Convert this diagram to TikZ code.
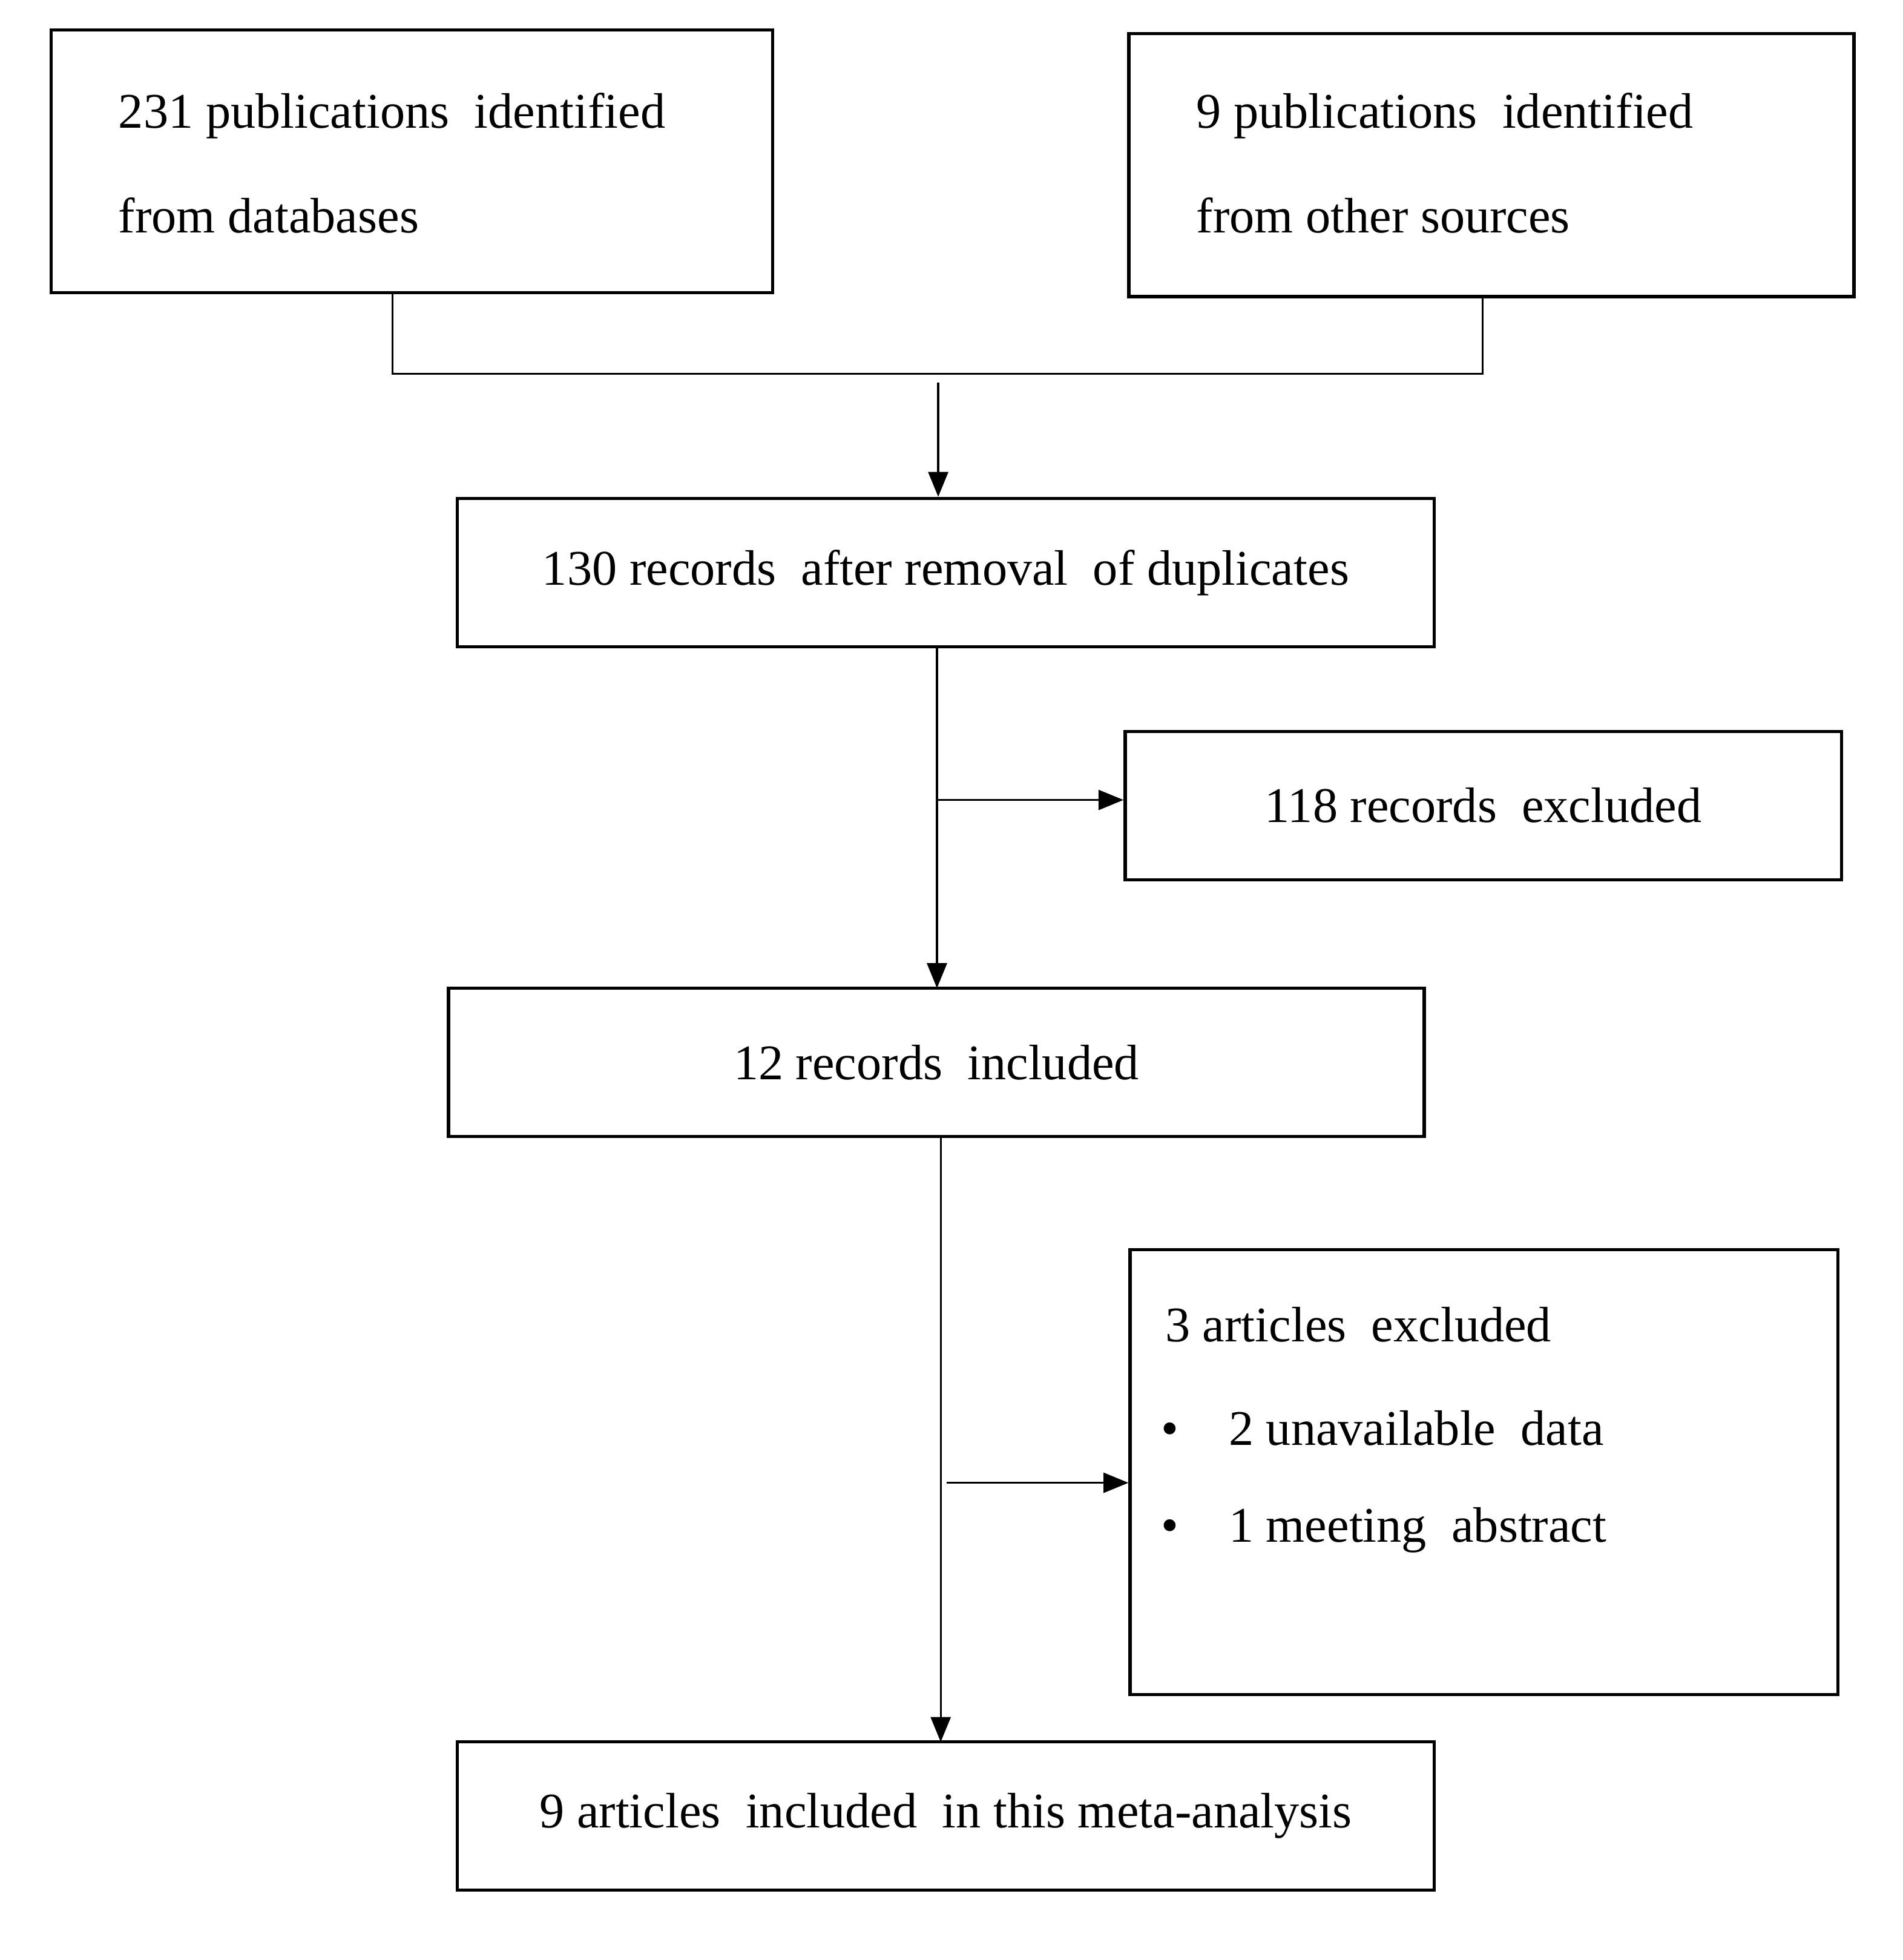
\documentclass[tikz,border=0pt]{standalone}
\usepackage{fontspec}
\setmainfont{Liberation Serif}
\usetikzlibrary{arrows.meta}
\begin{document}
\begin{tikzpicture}[x=1pt,y=-1pt,
  box/.style={draw,line width=2.6pt},
  ln/.style={line width=1.6pt},
  arr/.style={ln,-{Triangle[length=20pt,width=16pt]}},
  txt/.style={font=\fontsize{40}{48}\selectfont,inner sep=0pt}]
\useasboundingbox (0,0) rectangle (1527,1573);
\fill[white] (0,0) rectangle (1527,1573);
\draw[box] (41,24) rectangle (620,235);
\node[txt,anchor=west] (a1) at (95,93) {231 publications\enspace identified};
\node[txt,anchor=west] (a2) at (95,173) {from databases};
\draw[box] (906,27) rectangle (1488,238);
\node[txt,anchor=west] (b1) at (960,93) {9 publications\enspace identified};
\node[txt,anchor=west] (b2) at (960,173) {from other sources};
\coordinate (ja) at (315,235); \coordinate (jb) at (1190,238);
\draw[ln] (ja) -- (315,300) -- (1190,300) -- (jb);
\coordinate (s1) at (753,307);
\node[box,minimum width=784pt,minimum height=119pt,txt] (c) at (759,459.5) {130 records\enspace after removal\enspace of duplicates};
\draw[arr] (s1) -- (c.north-|s1);
\node[box,minimum width=575pt,minimum height=119pt,txt] (d) at (1190.5,646.5) {118 records\enspace excluded};
\node[box,minimum width=783pt,minimum height=119pt,txt] (e) at (751.5,852.5) {12 records\enspace included};
\coordinate (c1) at (752,519);
\draw[arr] (c1) -- (752,793);
\coordinate (k1) at (752,642);
\draw[arr] (k1) -- (k1-|d.west);
\node[box,minimum width=568pt,minimum height=357pt] (f) at (1191,1181.5) {};
\node[txt,anchor=west] at (935,1063) {3 articles\enspace excluded};
\node[txt,anchor=west] at (932,1146) {\textbullet\quad 2 unavailable\enspace data};
\node[txt,anchor=west] at (932,1228) {\textbullet\quad 1 meeting\enspace abstract};
\node[box,minimum width=784pt,minimum height=119pt,txt] (g) at (759,1457.5) {9 articles\enspace included\enspace in this meta-analysis};
\coordinate (e1) at (755,912);
\draw[arr] (e1) -- (755,1398);
\coordinate (k2) at (760,1190);
\draw[arr] (k2) -- (k2-|f.west);
\end{tikzpicture}
\end{document}
